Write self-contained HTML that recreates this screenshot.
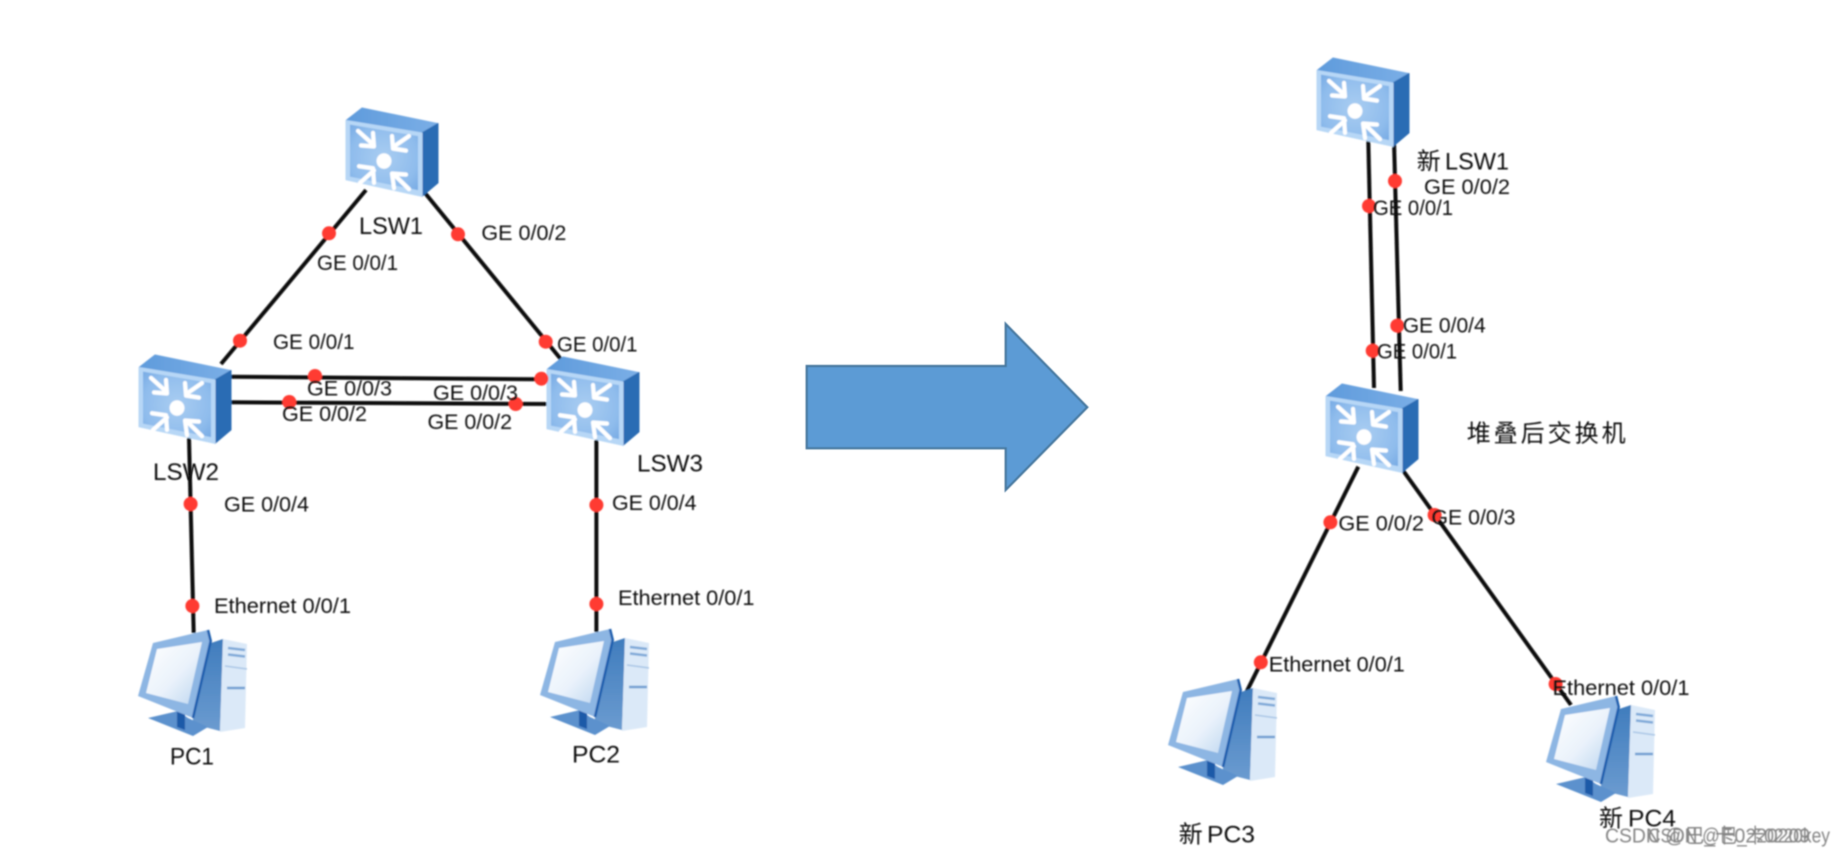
<!DOCTYPE html>
<html lang="zh">
<head>
<meta charset="utf-8">
<title>Network stacking diagram</title>
<style>
html,body{margin:0;padding:0;background:#fff;width:1845px;height:856px;overflow:hidden}
svg{display:block}
text{font-family:"Liberation Sans","Noto Sans CJK SC",sans-serif;fill:#111;font-size:21.5px}
.n{font-size:24.5px}
.cjk{font-size:24px}
.wm{font-size:20px;fill:#858585}
.w{fill:none;stroke:#fff;stroke-width:4.2;stroke-linecap:round;stroke-linejoin:round}
.lk{stroke:#0c0c0c;stroke-width:4;fill:none}
.dot{fill:#ff3a30}
</style>
</head>
<body>
<svg xmlns="http://www.w3.org/2000/svg" width="1845" height="856" viewBox="0 0 1845 856">
<defs>
<filter id="b" x="-2%" y="-2%" width="104%" height="104%"><feGaussianBlur stdDeviation="0.9"/></filter>
<filter id="b2" x="-5%" y="-5%" width="110%" height="110%"><feGaussianBlur stdDeviation="0.7"/></filter>
<filter id="b3" x="-5%" y="-5%" width="110%" height="110%"><feGaussianBlur stdDeviation="0.5"/></filter>
<radialGradient id="face" cx="0.5" cy="0.5" r="0.7">
<stop offset="0" stop-color="#a9cdf2"/><stop offset="0.7" stop-color="#8fbcec"/><stop offset="1" stop-color="#78abe4"/>
</radialGradient>
<linearGradient id="top" x1="0" y1="0" x2="1" y2="0">
<stop offset="0" stop-color="#5f9bdc"/><stop offset="1" stop-color="#7aaee6"/>
</linearGradient>
<linearGradient id="screen" x1="0" y1="0" x2="1" y2="1">
<stop offset="0" stop-color="#ffffff"/><stop offset="0.55" stop-color="#eaf2fb"/><stop offset="1" stop-color="#bcd5ef"/>
</linearGradient>
<linearGradient id="tside" x1="0" y1="0" x2="0" y2="1">
<stop offset="0" stop-color="#3f7cbd"/><stop offset="1" stop-color="#6b9bd0"/>
</linearGradient>
<g id="sw" transform="scale(1,1.04)">
<polygon points="0,12 16,0 92,15 76,24" fill="url(#top)" stroke="url(#top)" stroke-width="1" stroke-linejoin="round"/>
<polygon points="76,24 92,15 92,72 76,85" fill="#2a6cb4" stroke="#2a6cb4" stroke-width="1" stroke-linejoin="round"/>
<polygon points="0,12 76,24 76,85 0,69" fill="#b7d7f6" stroke="#b7d7f6" stroke-width="1" stroke-linejoin="round"/>
<polygon points="4,16 72,27 72,79 4,66" fill="url(#face)"/>
<circle cx="38" cy="51" r="7.5" fill="#fff"/>
<path class="w" d="M12,22L27,35M27,24L28,37L15,36"/>
<path class="w" d="M63,27L48,37M46,27L47,39L60,41"/>
<path class="w" d="M14,72L28,60M13,56L27,58L28,72"/>
<path class="w" d="M63,78L48,64M48,77L46,63L60,64"/>
</g>
<g id="pc">
<polygon points="73,13 85,9 82,101 55,94 55,88" fill="url(#tside)"/>
<polygon points="85,9 109,14 107,98 82,102" fill="#dbe9f8"/>
<path d="M90,18L107,20M90,24.5L107,26.5" stroke="#7ea9d8" stroke-width="2.6" fill="none"/>
<path d="M87,36L109,39" stroke="#a9c6e6" stroke-width="1.6" fill="none"/>
<path d="M89,58L107,58" stroke="#6f9fd2" stroke-width="2.6" fill="none"/>
<polygon points="10,88 40,81 50,88 70,97 55,106" fill="#5c91cd"/>
<polygon points="39,81 47,84 47,100 39,97" fill="#1e5aa8"/>
<polygon points="15,13 70,0 72.7,11 55,88 0,66" fill="#8db6e3"/>
<path d="M70,0L72.7,11L55,88" stroke="#1f5fae" stroke-width="2.6" fill="none"/>
<polygon points="19,19 64,12 50,74 8,63" fill="url(#screen)"/>
</g>
</defs>

<rect width="1845" height="856" fill="#fff"/>

<polygon filter="url(#b3)" points="806.7,366 1005.7,366 1005.7,324 1087.3,407.3 1005.7,490 1005.7,448.3 806.7,448.3" fill="#5b9bd5" stroke="#47789f" stroke-width="2.2"/>

<g filter="url(#b)">
<path class="lk" d="M366,190L221,364"/>
<path class="lk" d="M425,193L560.7,359"/>
<path class="lk" d="M228,376.7L540,379.3"/>
<path class="lk" d="M228,402.3L550,404"/>
<path class="lk" d="M189,438L193.7,633"/>
<path class="lk" d="M596.4,440L596.4,632"/>
<path class="lk" d="M1368.3,141L1374,388"/>
<path class="lk" d="M1394,141L1400.7,391"/>
<path class="lk" d="M1358.3,466.7L1246.6,691.7"/>
<path class="lk" d="M1402.7,470L1571,705"/>

<use href="#sw" x="346" y="108"/>
<use href="#sw" x="139" y="355"/>
<use href="#sw" x="547" y="357"/>
<use href="#sw" x="1317" y="58"/>
<use href="#sw" x="1326" y="384"/>
<use href="#pc" x="138" y="630"/>
<use href="#pc" x="540" y="629"/>
<use href="#pc" x="1168" y="679"/>
<use href="#pc" x="1546" y="696"/>

<g class="dot">
<circle cx="329" cy="233.3" r="7"/><circle cx="240" cy="340.7" r="7"/>
<circle cx="458" cy="234.3" r="7"/><circle cx="545.7" cy="341.7" r="7"/>
<circle cx="315" cy="376" r="7"/><circle cx="541.4" cy="378.7" r="7"/>
<circle cx="289.3" cy="402" r="7"/><circle cx="515.7" cy="404" r="7"/>
<circle cx="190.6" cy="504" r="7"/><circle cx="192.4" cy="606" r="7"/>
<circle cx="596.4" cy="505" r="7"/><circle cx="596.4" cy="604" r="7"/>
<circle cx="1369" cy="206" r="7"/><circle cx="1372.7" cy="350.7" r="7"/>
<circle cx="1395" cy="181" r="7"/><circle cx="1397.3" cy="325.7" r="7"/>
<circle cx="1330.4" cy="522.3" r="7"/><circle cx="1260.8" cy="662.3" r="7"/>
<circle cx="1434.6" cy="515" r="7"/><circle cx="1555.6" cy="684" r="7"/>
</g>
</g>

<g filter="url(#b2)">
<text class="n" x="359" y="234" textLength="64" lengthAdjust="spacingAndGlyphs">LSW1</text>
<text class="n" x="153" y="480" textLength="66" lengthAdjust="spacingAndGlyphs">LSW2</text>
<text class="n" x="637" y="471.7" textLength="66" lengthAdjust="spacingAndGlyphs">LSW3</text>
<text x="317" y="270" textLength="81" lengthAdjust="spacingAndGlyphs">GE 0/0/1</text>
<text x="481.4" y="240" textLength="85" lengthAdjust="spacingAndGlyphs">GE 0/0/2</text>
<text x="273" y="349" textLength="81.5" lengthAdjust="spacingAndGlyphs">GE 0/0/1</text>
<text x="557" y="351.7" textLength="80.5" lengthAdjust="spacingAndGlyphs">GE 0/0/1</text>
<text x="307" y="395.7" textLength="85" lengthAdjust="spacingAndGlyphs">GE 0/0/3</text>
<text x="433" y="400" textLength="85" lengthAdjust="spacingAndGlyphs">GE 0/0/3</text>
<text x="282" y="421" textLength="85" lengthAdjust="spacingAndGlyphs">GE 0/0/2</text>
<text x="427.5" y="429" textLength="84.5" lengthAdjust="spacingAndGlyphs">GE 0/0/2</text>
<text x="224" y="511.7" textLength="85" lengthAdjust="spacingAndGlyphs">GE 0/0/4</text>
<text x="214" y="613" textLength="137" lengthAdjust="spacingAndGlyphs">Ethernet 0/0/1</text>
<text x="612" y="510" textLength="84.5" lengthAdjust="spacingAndGlyphs">GE 0/0/4</text>
<text x="618" y="605" textLength="136.5" lengthAdjust="spacingAndGlyphs">Ethernet 0/0/1</text>
<text class="n" x="170" y="764.3" textLength="44" lengthAdjust="spacingAndGlyphs">PC1</text>
<text class="n" x="572" y="762.7" textLength="48" lengthAdjust="spacingAndGlyphs">PC2</text>

<text class="cjk" x="1416.7" y="169.3">新</text>
<text class="n" x="1445" y="169.3" textLength="64" lengthAdjust="spacingAndGlyphs">LSW1</text>
<text x="1424" y="194" textLength="86" lengthAdjust="spacingAndGlyphs">GE 0/0/2</text>
<text x="1373" y="215" textLength="80" lengthAdjust="spacingAndGlyphs">GE 0/0/1</text>
<text x="1402.7" y="332.7" textLength="83" lengthAdjust="spacingAndGlyphs">GE 0/0/4</text>
<text x="1377" y="358.3" textLength="80" lengthAdjust="spacingAndGlyphs">GE 0/0/1</text>
<text class="cjk" x="1466.7" y="441.7" letter-spacing="3">堆叠后交换机</text>
<text x="1338.4" y="530.7" textLength="85.5" lengthAdjust="spacingAndGlyphs">GE 0/0/2</text>
<text x="1431.5" y="524.3" textLength="84" lengthAdjust="spacingAndGlyphs">GE 0/0/3</text>
<text x="1268.8" y="671.7" textLength="136" lengthAdjust="spacingAndGlyphs">Ethernet 0/0/1</text>
<text x="1552.5" y="695" textLength="137" lengthAdjust="spacingAndGlyphs">Ethernet 0/0/1</text>
<text class="cjk" x="1178.8" y="842.7">新</text>
<text class="n" x="1207" y="842.7" textLength="48" lengthAdjust="spacingAndGlyphs">PC3</text>
<text class="cjk" x="1599" y="826.7">新</text>
<text class="n" x="1628" y="826.7" textLength="48" lengthAdjust="spacingAndGlyphs">PC4</text>
<text class="wm" x="1605" y="842.7" textLength="205" lengthAdjust="spacingAndGlyphs">CSDN @巴_卡0220209</text>
<text class="wm" x="1648" y="842.7" textLength="182" lengthAdjust="spacingAndGlyphs">CSDN @巴_卡0220key</text>
</g>
</svg>
</body>
</html>
